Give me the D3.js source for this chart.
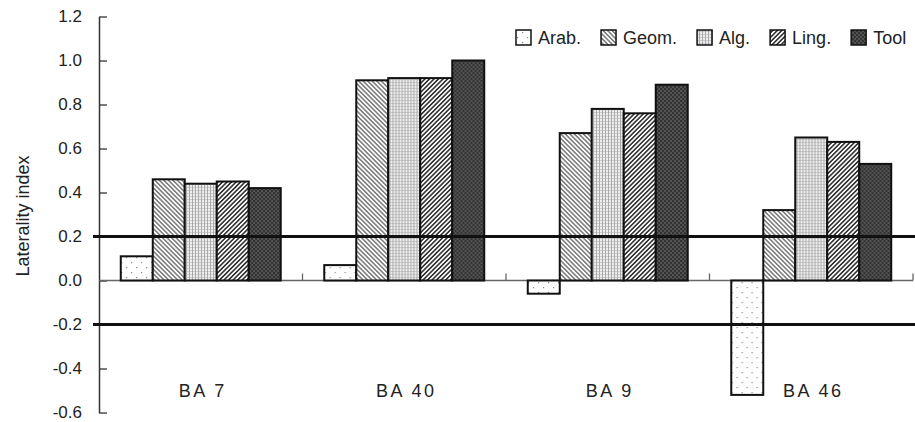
<!DOCTYPE html>
<html>
<head>
<meta charset="utf-8">
<script src="https://cdn.jsdelivr.net/npm/d3@7/dist/d3.min.js"></script>
<style>
  html, body { margin: 0; padding: 0; background: #fff; }
  svg { display: block; font-family: "Liberation Sans", Arial, sans-serif; }
</style>
</head>
<body>
<svg id="chart" width="915" height="422"></svg>
<script>
// Laterality index per Brodmann area and task
const categories = ["BA 7", "BA 40", "BA 9", "BA 46"];
const seriesNames = ["Arab.", "Geom.", "Alg.", "Ling.", "Tool"];
const arab = [0.11, 0.07, -0.06, -0.52];
const geom = [0.46, 0.91, 0.67, 0.32];
const alg  = [0.44, 0.92, 0.78, 0.65];
const ling = [0.45, 0.92, 0.76, 0.63];
const tool = [0.42, 1.00, 0.89, 0.53];
const yTicks = [-0.6, -0.4, -0.2, 0.0, 0.2, 0.4, 0.6, 0.8, 1.0, 1.2];
const thresholds = [0.2, -0.2];

const seriesValues = [arab, geom, alg, ling, tool];
const patternIds = ["p-arab", "p-geom", "p-alg", "p-ling", "p-tool"];

const svg = d3.select("#chart");
const defs = svg.append("defs");

// Fill patterns for each series
function dotPattern(id, w, h, bg, dots, r, color) {
  const p = defs.append("pattern").attr("id", id).attr("patternUnits", "userSpaceOnUse")
    .attr("width", w).attr("height", h);
  p.append("rect").attr("width", w).attr("height", h).attr("fill", bg);
  dots.forEach(([cx, cy]) => p.append("rect").attr("x", cx).attr("y", cy)
    .attr("width", r).attr("height", r).attr("fill", color));
  return p;
}
function hatchPattern(id, spacing, width, angle, color) {
  const p = defs.append("pattern").attr("id", id).attr("patternUnits", "userSpaceOnUse")
    .attr("width", spacing).attr("height", spacing)
    .attr("patternTransform", `rotate(${angle})`);
  p.append("rect").attr("width", spacing).attr("height", spacing).attr("fill", "#fff");
  p.append("line").attr("x1", spacing / 2).attr("x2", spacing / 2)
    .attr("y1", 0).attr("y2", spacing)
    .attr("stroke", color).attr("stroke-width", width);
}
dotPattern("p-arab", 10, 10, "#fff", [[2, 2], [7, 7]], 1.2, "#888");
hatchPattern("p-geom", 3.2, 1.2, -45, "#555");
(function () {
  const p = defs.append("pattern").attr("id", "p-alg").attr("patternUnits", "userSpaceOnUse")
    .attr("width", 3).attr("height", 3);
  p.append("rect").attr("width", 3).attr("height", 3).attr("fill", "#eee");
  p.append("rect").attr("x", 0).attr("y", 0).attr("width", 1).attr("height", 3).attr("fill", "#aaa");
  p.append("rect").attr("x", 1.5).attr("y", 1).attr("width", 1).attr("height", 1).attr("fill", "#aaa");
})();
hatchPattern("p-ling", 3.2, 1.6, 45, "#333");
dotPattern("p-tool", 4, 4, "#333", [[0.5, 0.5], [2.5, 2.5]], 1.1, "#999");

// Scales
const y = d3.scaleLinear().domain([-0.6, 1.2]).range([412.5, 16.5]);
const x0 = d3.scaleBand().domain(categories).range([99, 913]).padding(0);
const x1 = d3.scaleBand().domain(seriesNames).range([0, x0.bandwidth()])
  .paddingInner(0).paddingOuter(0.68);

// Y axis with inward ticks; plain hyphen for negatives
const fmt = d => d3.format(".1f")(d).replace("\u2212", "-");
const yAxis = d3.axisLeft(y).tickValues(yTicks).tickFormat(fmt)
  .tickSizeInner(-8).tickSizeOuter(0).tickPadding(17);
const gy = svg.append("g").attr("transform", "translate(99,0)").call(yAxis);
gy.select(".domain").attr("stroke", "#333").attr("stroke-width", 1.5);
gy.selectAll(".tick line").attr("stroke", "#333").attr("stroke-width", 1.3);
gy.selectAll(".tick text").attr("font-size", 17).attr("fill", "#222")
  .attr("font-family", "'Liberation Sans', Arial, sans-serif");

// Zero baseline with boundary ticks between areas
svg.append("line").attr("x1", 99).attr("x2", x0.range()[1])
  .attr("y1", y(0)).attr("y2", y(0)).attr("stroke", "#666").attr("stroke-width", 1.3);
svg.append("g").selectAll("line").data(categories).join("line")
  .attr("x1", d => x0(d) + x0.bandwidth()).attr("x2", d => x0(d) + x0.bandwidth())
  .attr("y1", y(0)).attr("y2", y(0) - 7)
  .attr("stroke", "#666").attr("stroke-width", 1.3);

// Bars
const groups = svg.append("g").selectAll("g").data(categories).join("g")
  .attr("transform", d => `translate(${x0(d)},0)`);
groups.selectAll("rect")
  .data((c, ci) => seriesNames.map((s, si) => ({ s, si, v: seriesValues[si][ci] })))
  .join("rect")
  .attr("x", d => x1(d.s))
  .attr("width", x1.bandwidth())
  .attr("y", d => y(Math.max(0, d.v)))
  .attr("height", d => Math.abs(y(d.v) - y(0)))
  .attr("fill", d => `url(#${patternIds[d.si]})`)
  .attr("stroke", "#111").attr("stroke-width", 2);

// Threshold lines at +/-0.2
svg.append("g").selectAll("line").data(thresholds).join("line")
  .attr("x1", 93).attr("x2", 915)
  .attr("y1", d => y(d)).attr("y2", d => y(d))
  .attr("stroke", "#111").attr("stroke-width", 3);

// Area labels
svg.append("g").selectAll("text").data(categories).join("text")
  .attr("x", d => x0(d) + x0.bandwidth() / 2 + 2)
  .attr("y", 397)
  .attr("text-anchor", "middle")
  .attr("font-size", 18).attr("letter-spacing", "2.5px").attr("fill", "#222")
  .text(d => d);

// Y axis title
svg.append("text")
  .attr("transform", "translate(29,216) rotate(-90)")
  .attr("text-anchor", "middle").attr("font-size", 18).attr("fill", "#222")
  .text("Laterality index");

// Legend
const legend = svg.append("g");
let lx = 516;
seriesNames.forEach((s, i) => {
  legend.append("rect").attr("x", lx).attr("y", 30).attr("width", 15).attr("height", 15)
    .attr("fill", `url(#${patternIds[i]})`).attr("stroke", "#111").attr("stroke-width", 1.5);
  const t = legend.append("text").attr("x", lx + 22).attr("y", 44)
    .attr("font-size", 18).attr("fill", "#222").text(s);
  lx = lx + 22 + t.node().getComputedTextLength() + 20;
});
</script>
</body>
</html>
